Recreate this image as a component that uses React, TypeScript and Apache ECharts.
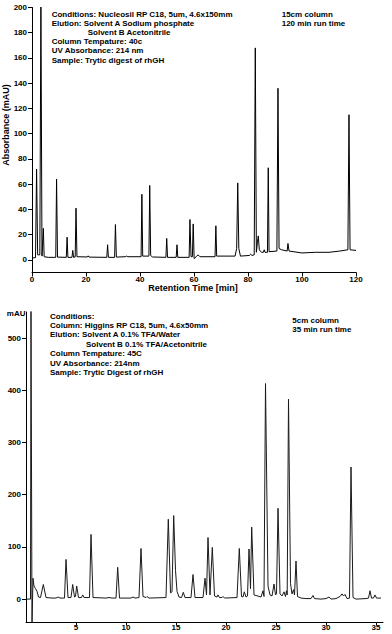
import React, { useEffect, useRef } from "react";
import * as echarts from "echarts";

// ---- Data ----
// Top chromatogram: [retention time (min), absorbance (mAU)]
const topTrace: [number, number][] = [
  [0, 1.5], [1.3, 1.8], [1.7, 72], [2.1, 4], [2.9, 4], [3.3, 205], [3.7, 3], [3.9, 3],
  [4.2, 25], [4.5, 2.5], [6, 2], [8.8, 2], [9.1, 64], [9.45, 2.2], [12.7, 2], [13.0, 18],
  [13.3, 2], [14.8, 2], [15.1, 7.5], [15.4, 2], [16.0, 2.3], [16.3, 41], [16.65, 2.5],
  [20.5, 2.3], [20.8, 3.2], [21.1, 2.2], [27.7, 2], [28.0, 12], [28.3, 2], [30.6, 2],
  [30.9, 28], [31.25, 2.2], [34.5, 2.5], [35, 3], [35.5, 2.5], [40.4, 2.5], [40.7, 52],
  [41.0, 3], [43.3, 3], [43.6, 59], [43.95, 3.5], [44.6, 2.3], [49.6, 2], [49.9, 17],
  [50.2, 2], [53.4, 2], [53.7, 12], [54.0, 2], [58.2, 2], [58.5, 32], [58.9, 2.5],
  [59.4, 2.5], [59.7, 28.5], [60.05, 1], [60.8, 2.5], [61.5, 4], [62.2, 2.5], [67.8, 2.5],
  [68.1, 27], [68.4, 3], [75.2, 3], [75.8, 9], [76.2, 61], [76.6, 9], [77.2, 3],
  [80.5, 3.5], [81.0, 4.5], [81.5, 3.5], [82.3, 4], [82.7, 168], [83.1, 6], [83.5, 14],
  [83.8, 19], [84.2, 8], [85.0, 6], [85.7, 6], [86.0, 8], [86.3, 6], [87.2, 6], [87.5, 73],
  [87.8, 6.5], [90.7, 7], [91.1, 136], [91.5, 9], [92.5, 8], [94.5, 7], [94.8, 13],
  [95.2, 7], [100, 5.5], [105, 6], [110, 6], [114, 7], [117.0, 8], [117.4, 115],
  [117.8, 8], [120, 7.5],
];

// Bottom chromatogram: [retention time (min), absorbance (mAU)]
const bottomTrace: [number, number][] = [
  [0, 0], [0.45, 0], [0.5, 560], [0.6, -50], [0.7, 40], [0.8, 25], [0.95, 20], [1.1, 15],
  [1.25, 4], [1.45, 3], [1.73, 28], [2.0, 3], [2.6, 2], [3.0, 2], [3.2, 4], [3.4, 2],
  [3.85, 2], [4.0, 76], [4.2, 3], [4.5, 3], [4.67, 28], [4.85, 4], [4.95, 5], [5.07, 25],
  [5.25, 3], [5.55, 3], [5.67, 8], [5.8, 3], [6.35, 3], [6.5, 124], [6.7, 3], [8.0, 2],
  [8.3, 3], [8.6, 2], [9.0, 2], [9.17, 61], [9.35, 2], [10.5, 2], [10.7, 4], [10.9, 2],
  [11.3, 3], [11.5, 97], [11.7, 5], [12.0, 3], [12.1, 5], [12.3, 2], [14.0, 3],
  [14.23, 153], [14.45, 12], [14.6, 14], [14.77, 160], [14.95, 55], [15.1, 15], [15.3, 4],
  [15.55, 3], [15.73, 13], [15.9, 3], [16.5, 3], [16.7, 47], [16.9, 3], [17.7, 3],
  [17.9, 40], [18.05, 8], [18.2, 118], [18.4, 8], [18.63, 99], [18.85, 6], [19.1, 4],
  [19.2, 8], [19.35, 3], [19.6, 3], [19.7, 5], [19.85, 2], [21.1, 3], [21.33, 97],
  [21.55, 5], [21.7, 4], [21.83, 14], [22.0, 4], [22.15, 6], [22.3, 96], [22.45, 20],
  [22.57, 138], [22.8, 8], [23.5, 4], [23.7, 16], [23.8, 5], [23.95, 413], [24.2, 25],
  [24.4, 8], [24.6, 6], [24.8, 29], [24.95, 8], [25.05, 10], [25.2, 174], [25.4, 10],
  [25.6, 6], [25.8, 14], [25.95, 5], [26.05, 16], [26.12, 8], [26.25, 383], [26.45, 30],
  [26.6, 10], [26.75, 18], [26.85, 8], [27.0, 73], [27.15, 5], [27.5, 2], [28.0, 1],
  [28.5, 1], [28.7, 7], [28.85, 1], [29.5, 0], [30.0, 1], [30.3, 4], [30.5, 0], [31.0, 1],
  [31.4, 5], [31.6, 10], [31.75, 6], [31.9, 9], [32.1, 1], [32.35, 2], [32.5, 253],
  [32.7, 3], [33.0, 0], [34.0, 1], [34.25, 2], [34.4, 16], [34.55, 2], [34.75, 2],
  [34.9, 8], [35.05, 2], [35.5, 2],
];

const topXTicks = [0, 20, 40, 60, 80, 100, 120];
const topYTicks = [0, 20, 40, 60, 80, 100, 120, 140, 160, 180, 200];
const bottomXTicks = [5, 10, 15, 20, 25, 30, 35];
const bottomYTicks = [0, 100, 200, 300, 400, 500];

const topNotes = [
  "Conditions: Nucleosil RP C18, 5um, 4.6x150mm",
  "Elution: Solvent A Sodium phosphate",
  "Solvent B Acetonitrile",
  "Column Tempature: 40c",
  "UV Absorbance: 214 nm",
  "Sample: Trytic digest of rhGH",
];
const topSideNotes = ["15cm column", "120 min run time"];

const bottomNotes = [
  "Conditions:",
  "Column: Higgins RP C18, 5um, 4.6x50mm",
  "Elution: Solvent A 0.1% TFA/Water",
  "Solvent B 0.1% TFA/Acetonitrile",
  "Column Tempature: 45C",
  "UV Absorbance: 214nm",
  "Sample: Trytic Digest of rhGH",
];
const bottomSideNotes = ["5cm column", "35 min run time"];

const FONT = '"Liberation Sans", Arial, Helvetica, sans-serif';

function textEl(text: string, x: number, y: number, size = 8, align = "left", rotation = 0) {
  return {
    type: "text",
    x,
    y,
    rotation,
    silent: true,
    style: {
      text,
      align,
      verticalAlign: "middle",
      fontFamily: FONT,
      fontSize: size,
      fontWeight: "bold",
      fill: "#000",
    },
  };
}

export default function App() {
  const ref = useRef<HTMLDivElement>(null);

  useEffect(() => {
    document.body.style.margin = "0";
    if (!ref.current) return;
    const chart = echarts.init(ref.current, undefined, { renderer: "svg" });

    const axisLabel = { color: "#000", fontSize: 8, fontWeight: "bold", fontFamily: FONT };
    const axisLine = { show: true, onZero: false, lineStyle: { color: "#000", width: 1 } };
    const axisTick = (vals: number[], len = 4) => ({
      show: true,
      length: len,
      lineStyle: { color: "#000", width: 1 },
      customValues: vals,
    });

    const graphics: any[] = [];
    topNotes.forEach((t, i) => {
      graphics.push(textEl(t, i === 2 ? 87.7 : 51.7, 14 + i * 9.2));
    });
    topSideNotes.forEach((t, i) => graphics.push(textEl(t, 281.7, 14 + i * 9.3)));
    bottomNotes.forEach((t, i) => {
      graphics.push(textEl(t, i === 3 ? 86 : 50, 316 + i * 9.45));
    });
    bottomSideNotes.forEach((t, i) => graphics.push(textEl(t, 292.3, 320 + i * 9.3)));
    graphics.push(textEl("Absorbance (mAU)", 6, 125, 9, "center", Math.PI / 2));
    graphics.push(textEl("Retention Time [min]", 193, 288, 9, "center"));
    graphics.push(textEl("mAU", 25.5, 313, 8, "right"));

    chart.setOption({
      animation: false,
      backgroundColor: "#fff",
      grid: [
        { left: 32, top: 7.5, width: 324, height: 265, outerBoundsMode: "none", containLabel: false },
        { left: 26, top: 312, width: 357, height: 310.6, outerBoundsMode: "none", containLabel: false },
      ],
      xAxis: [
        {
          type: "value",
          gridIndex: 0,
          min: 0,
          max: 120,
          interval: 20,
          axisLine,
          axisTick: axisTick(topXTicks, 4),
          axisLabel: { ...axisLabel, margin: 3, customValues: topXTicks },
          splitLine: { show: false },
        },
        {
          type: "value",
          gridIndex: 1,
          min: 0,
          max: 35.7,
          axisLine,
          axisTick: axisTick(bottomXTicks, 3),
          axisLabel: { ...axisLabel, margin: 1, customValues: bottomXTicks },
          splitLine: { show: false },
        },
      ],
      yAxis: [
        {
          type: "value",
          gridIndex: 0,
          min: -10,
          max: 200,
          axisLine,
          axisTick: axisTick(topYTicks, 4),
          axisLabel: { ...axisLabel, margin: 5, customValues: topYTicks },
          splitLine: { show: false },
        },
        {
          type: "value",
          gridIndex: 1,
          min: -45,
          max: 550,
          axisLine,
          axisTick: axisTick(bottomYTicks, 4),
          axisLabel: { ...axisLabel, margin: 5, customValues: bottomYTicks },
          splitLine: { show: false },
        },
      ],
      series: [
        {
          type: "line",
          xAxisIndex: 0,
          yAxisIndex: 0,
          data: topTrace,
          symbol: "none",
          silent: true,
          lineStyle: { color: "#000", width: 1 },
        },
        {
          type: "line",
          xAxisIndex: 1,
          yAxisIndex: 1,
          data: bottomTrace,
          symbol: "none",
          silent: true,
          lineStyle: { color: "#1a1a1a", width: 1 },
        },
      ],
      graphic: graphics,
    });

    return () => chart.dispose();
  }, []);

  return (
    <div
      ref={ref}
      style={{ position: "fixed", left: 0, top: 0, width: 392, height: 634, background: "#fff" }}
    />
  );
}
